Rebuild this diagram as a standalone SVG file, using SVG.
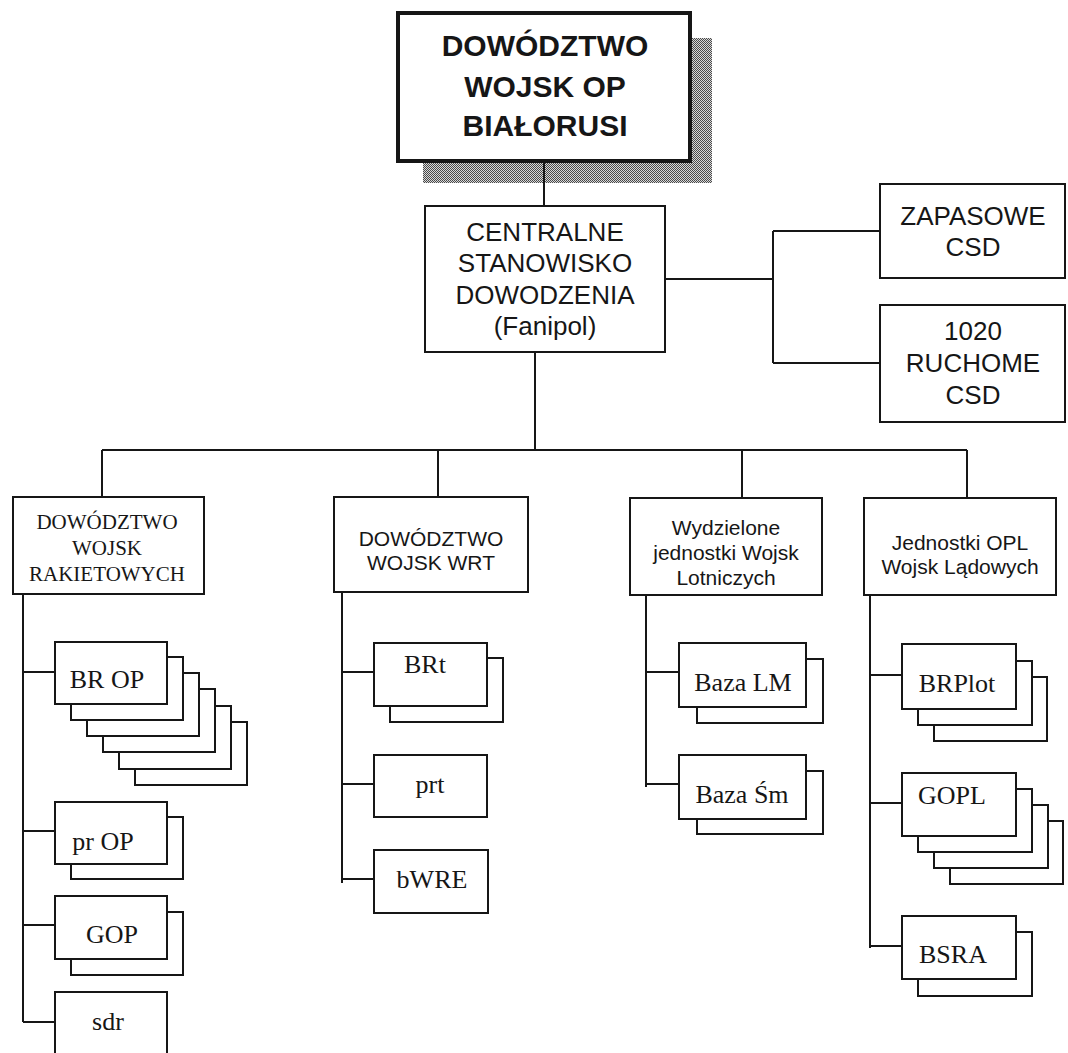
<svg xmlns="http://www.w3.org/2000/svg" width="1068" height="1053" viewBox="0 0 1068 1053">
<style>
.bx{fill:#fff;stroke:#161616;stroke-width:2}
.ln{fill:none;stroke:#161616;stroke-width:2}
.sa{font-family:"Liberation Sans",Arial,sans-serif;fill:#161616;text-anchor:middle}
.se{font-family:"Liberation Serif","Times New Roman",serif;fill:#161616;text-anchor:middle}
.big{font-size:30px;font-weight:bold}
.mid{font-size:26px}
.sm{font-size:21px}
.uni{font-size:26px}
</style>
<defs>
<pattern id="dots" patternUnits="userSpaceOnUse" width="2" height="2">
<rect width="2" height="2" fill="#d8d8d8"/>
<rect width="1" height="1" fill="#4a4a4a"/>
<rect x="1" y="1" width="1" height="1" fill="#4a4a4a"/>
</pattern>
</defs>
<rect width="1068" height="1053" fill="#fff"/>

<g id="shadow">
<rect x="423" y="38" width="289" height="145" fill="url(#dots)"/>
</g>

<g id="connectors">
<path class="ln" d="M544 161V206"/>
<path class="ln" d="M665 279H773M773 231V363M773 231H880M773 363H880"/>
<path class="ln" d="M535 352V450M102 450H967M102 450V497M438 450V497M742 450V497M967 450V497"/>
<path class="ln" d="M23 594V1022M23 672H55M23 831H55M23 925H55M23 1022H55"/>
<path class="ln" d="M342 592V883M342 672H374M342 784H374M342 879H374"/>
<path class="ln" d="M646 595V787M646 672H679M646 784H679"/>
<path class="ln" d="M870 595V948M870 675H902M870 803H902M870 946H902"/>
</g>

<g id="n-dowodztwo">
<rect x="398" y="13" width="292" height="148" fill="#fff" stroke="#161616" stroke-width="4"/>
<text class="sa big" x="545" y="56">DOWÓDZTWO</text>
<text class="sa big" x="545" y="97">WOJSK OP</text>
<text class="sa big" x="545" y="136">BIAŁORUSI</text>
</g>

<g id="n-csd">
<rect class="bx" x="425" y="206" width="240" height="146"/>
<text class="sa mid" x="545" y="241">CENTRALNE</text>
<text class="sa mid" x="545" y="272">STANOWISKO</text>
<text class="sa mid" x="545" y="304">DOWODZENIA</text>
<text class="sa mid" x="545" y="335">(Fanipol)</text>
</g>

<g id="n-zapasowe">
<rect class="bx" x="880" y="184" width="185" height="94"/>
<text class="sa mid" x="973" y="225">ZAPASOWE</text>
<text class="sa mid" x="973" y="256">CSD</text>
</g>

<g id="n-ruchome">
<rect class="bx" x="880" y="305" width="185" height="117"/>
<text class="sa mid" x="973" y="340">1020</text>
<text class="sa mid" x="973" y="372">RUCHOME</text>
<text class="sa mid" x="973" y="404">CSD</text>
</g>

<g id="n-rakietowe">
<rect class="bx" x="13" y="497" width="191" height="97"/>
<text class="se sm" x="107" y="529">DOWÓDZTWO</text>
<text class="se sm" x="107" y="555">WOJSK</text>
<text class="se sm" x="107" y="581">RAKIETOWYCH</text>
</g>

<g id="n-wrt">
<rect class="bx" x="334" y="497" width="194" height="95"/>
<text class="sa sm" x="431" y="546">DOWÓDZTWO</text>
<text class="sa sm" x="431" y="570">WOJSK WRT</text>
</g>

<g id="n-lotnicze">
<rect class="bx" x="630" y="498" width="192" height="97"/>
<text class="sa sm" x="726" y="535">Wydzielone</text>
<text class="sa sm" x="726" y="560">jednostki Wojsk</text>
<text class="sa sm" x="726" y="585">Lotniczych</text>
</g>

<g id="n-opl">
<rect class="bx" x="864" y="498" width="192" height="97"/>
<text class="sa sm" x="960" y="550">Jednostki OPL</text>
<text class="sa sm" x="960" y="574">Wojsk Lądowych</text>
</g>

<g id="n-brop">
<rect class="bx" x="135" y="722" width="112" height="63"/>
<rect class="bx" x="119" y="706" width="112" height="63"/>
<rect class="bx" x="103" y="689" width="112" height="63"/>
<rect class="bx" x="87" y="673" width="112" height="63"/>
<rect class="bx" x="71" y="657" width="112" height="63"/>
<rect class="bx" x="55" y="642" width="112" height="62"/>
<text class="se uni" x="107" y="688">BR OP</text>
</g>

<g id="n-prop">
<rect class="bx" x="71" y="817" width="112" height="62"/>
<rect class="bx" x="55" y="802" width="112" height="62"/>
<text class="se uni" x="103" y="850">pr OP</text>
</g>

<g id="n-gop">
<rect class="bx" x="71" y="912" width="112" height="63"/>
<rect class="bx" x="55" y="896" width="112" height="63"/>
<text class="se uni" x="112" y="943">GOP</text>
</g>

<g id="n-sdr">
<rect class="bx" x="55" y="992" width="112" height="70"/>
<text class="se uni" x="108" y="1030">sdr</text>
</g>

<g id="n-brt">
<rect class="bx" x="390" y="658" width="113" height="64"/>
<rect class="bx" x="374" y="643" width="113" height="63"/>
<text class="se uni" x="425" y="673">BRt</text>
</g>

<g id="n-prt">
<rect class="bx" x="374" y="755" width="113" height="62"/>
<text class="se uni" x="430" y="793">prt</text>
</g>

<g id="n-bwre">
<rect class="bx" x="374" y="850" width="114" height="63"/>
<text class="se uni" x="432" y="888">bWRE</text>
</g>

<g id="n-bazalm">
<rect class="bx" x="697" y="659" width="126" height="64"/>
<rect class="bx" x="679" y="643" width="127" height="64"/>
<text class="se uni" x="743" y="691">Baza LM</text>
</g>

<g id="n-bazasm">
<rect class="bx" x="697" y="771" width="126" height="63"/>
<rect class="bx" x="679" y="755" width="127" height="64"/>
<text class="se uni" x="742" y="803">Baza Śm</text>
</g>

<g id="n-brplot">
<rect class="bx" x="934" y="677" width="113" height="64"/>
<rect class="bx" x="918" y="661" width="114" height="64"/>
<rect class="bx" x="902" y="644" width="114" height="65"/>
<text class="se uni" x="957" y="692">BRPlot</text>
</g>

<g id="n-gopl">
<rect class="bx" x="950" y="821" width="113" height="63"/>
<rect class="bx" x="934" y="805" width="114" height="63"/>
<rect class="bx" x="918" y="789" width="114" height="63"/>
<rect class="bx" x="902" y="773" width="114" height="63"/>
<text class="se uni" x="952" y="804">GOPL</text>
</g>

<g id="n-bsra">
<rect class="bx" x="918" y="932" width="114" height="64"/>
<rect class="bx" x="902" y="916" width="114" height="63"/>
<text class="se uni" x="953" y="963">BSRA</text>
</g>
</svg>
